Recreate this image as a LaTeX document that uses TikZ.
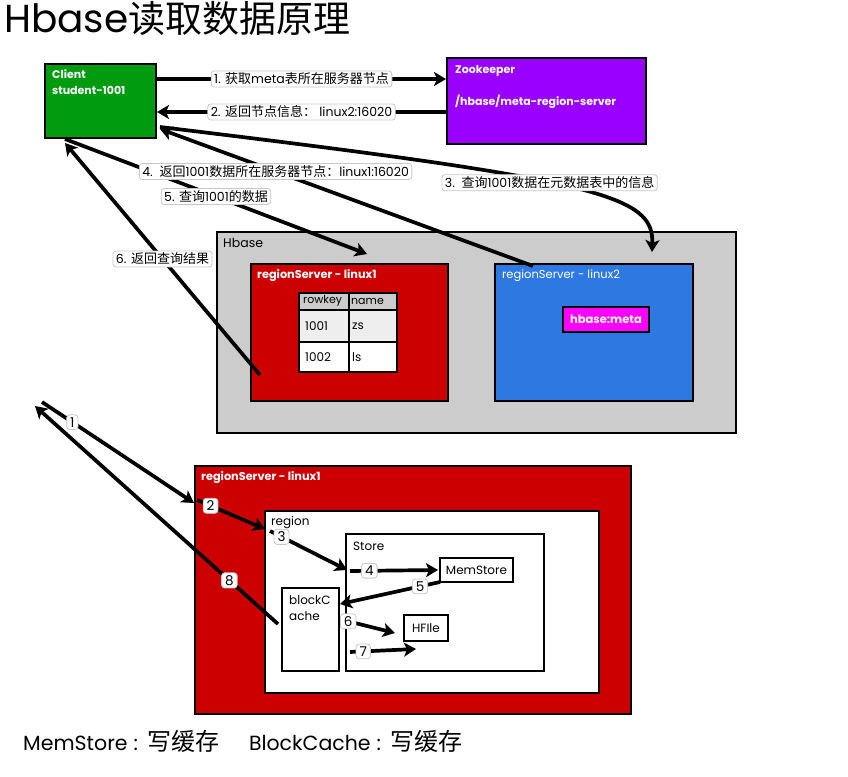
\documentclass[tikz,border=0pt]{standalone}
\usepackage{fontspec}
\setmainfont{Poppins}
\newfontfamily\cjk{Noto Sans CJK SC}
\usetikzlibrary{arrows.meta}
\definecolor{cgreen}{RGB}{0,155,15}
\definecolor{cpurple}{RGB}{153,0,255}
\definecolor{cgray}{RGB}{204,204,204}
\definecolor{cred}{RGB}{204,0,0}
\definecolor{cblue}{RGB}{45,120,225}
\definecolor{cmag}{RGB}{255,0,255}
\definecolor{lgray}{RGB}{238,238,238}
\newcommand{\zh}[1]{{\cjk\fontsize{13}{15}\selectfont #1}}
\begin{document}
\begin{tikzpicture}[x=1pt,y=-1pt,
  box/.style={draw=black, line width=2pt, anchor=north west, inner sep=0pt},
  cell/.style={draw=black, line width=1.5pt, anchor=north west, inner sep=0pt},
  arr/.style={line width=3.7pt, -{Stealth[length=12pt,width=14pt,inset=3pt]}},
  lbl/.style={draw=black!22, line width=0.8pt, fill=white, rounded corners=3pt, inner xsep=3pt, inner ysep=2pt, text=black, font=\fontsize{12.5}{15}\selectfont},
  num/.style={draw=black!22, line width=0.8pt, fill=white, rounded corners=3pt, inner xsep=3.5pt, inner ysep=2.5pt, text=black, font=\fontsize{13.5}{15}\selectfont},
  wt/.style={text=white, font=\bfseries\fontsize{11}{16}\selectfont, anchor=west, inner sep=0pt, align=left},
  dt/.style={text=black, font=\fontsize{12}{14}\selectfont, anchor=west, inner sep=0pt}
]
\useasboundingbox (0,0) rectangle (848,776);
\fill[white] (0,0) rectangle (848,776);

% title
\node[anchor=base west, inner sep=0pt] (title) at (4,33) {\fontsize{39}{44}\selectfont Hbase{\cjk\fontsize{37}{44}\selectfont 读取数据原理}};

% client and zookeeper
\node[box, fill=cgreen, minimum width=111pt, minimum height=74pt] (client) at (44,63) {};
\node[wt] (clientt) at (52,82) {Client\\student-1001};
\node[box, fill=cpurple, minimum width=199pt, minimum height=86pt] (zk) at (446,57) {};
\node[wt] (zkt1) at (455,71) {Zookeeper};
\node[wt] (zkt2) at (455,102) {/hbase/meta-region-server};

% Hbase cluster
\node[box, fill=cgray, minimum width=519pt, minimum height=201pt] (hbase) at (216,231) {};
\node[dt, font=\fontsize{12.5}{14}\selectfont] (hbaset) at (223,243) {Hbase};
\node[box, fill=cred, minimum width=197pt, minimum height=137pt] (rs1) at (250,263) {};
\node[wt, font=\bfseries\fontsize{11.3}{13}\selectfont] (rs1t) at (257,276) {regionServer - linux1};
\node[box, fill=cblue, minimum width=198pt, minimum height=137pt] (rs2) at (494,263) {};
\node[wt, font=\fontsize{11.5}{13}\selectfont] (rs2t) at (502,276) {regionServer - linux2};
\node[box, fill=cmag, minimum width=86pt, minimum height=25pt, font=\bfseries\fontsize{11.5}{13}\selectfont, text=white] (meta) at (562,306) {hbase:meta};

% table
\tikzset{ct/.style={anchor=west, inner sep=0pt, font=\fontsize{12}{14}\selectfont}}
\node[cell, fill=cgray, minimum width=50pt, minimum height=17pt] (c11) at (298,292) {};
\node[cell, fill=cgray, minimum width=48pt, minimum height=17pt] (c12) at (348,292) {};
\node[cell, fill=lgray, minimum width=50pt, minimum height=32pt] (c21) at (298,309) {};
\node[cell, fill=lgray, minimum width=48pt, minimum height=32pt] (c22) at (348,309) {};
\node[cell, fill=white, minimum width=50pt, minimum height=30pt] (c31) at (298,341) {};
\node[cell, fill=white, minimum width=48pt, minimum height=30pt] (c32) at (348,341) {};
\node[ct, font=\fontsize{11}{13}\selectfont] (t11) at ([xshift=5pt]c11.west) {rowkey};
\node[ct, font=\fontsize{11}{13}\selectfont] (t12) at ([xshift=3pt]c12.west) {name};
\node[ct] (t21) at ([xshift=7pt]c21.west) {1001};
\node[ct] (t22) at ([xshift=4pt]c22.west) {zs};
\node[ct] (t31) at ([xshift=7pt]c31.west) {1002};
\node[ct] (t32) at ([xshift=4pt]c32.west) {ls};

% top connectors
\coordinate (a3s) at (160,127);
\coordinate (a3e) at (652,252);
\coordinate (a4s) at (533,266);
\coordinate (a4e) at (160,129);
\coordinate (a5s) at (65,139);
\coordinate (a5e) at (367,254);
\coordinate (a6s) at (260,375);
\coordinate (a6e) at (65,143);

\draw[arr] ([yshift=22pt]client.east) -- node[lbl]{1. \zh{获取}meta\zh{表所在服务器节点}} ([yshift=22pt]zk.west);
\draw[arr] ([yshift=-11pt]zk.west) -- node[lbl]{2. \zh{返回节点信息：} linux2:16020} ([yshift=-11pt]client.east);
\draw[arr] (a3s) .. controls (600,180) and (654,195) .. node[lbl, pos=0.45]{3.\ \ \zh{查询}1001\zh{数据在元数据表中的信息}} (a3e);
\draw[arr] (a5s) -- node[lbl, pos=0.5]{5. \zh{查询}1001\zh{的数据}} (a5e);
\draw[arr] (a4s) -- node[lbl, pos=0.69]{4.\ \ \zh{返回}1001\zh{数据所在服务器节点：}linux1:16020} (a4e);
\draw[arr] (a6s) -- node[lbl, pos=0.5]{6. \zh{返回查询结果}} (a6e);

% bottom region server
\node[box, fill=cred, minimum width=436pt, minimum height=248pt] (rsb) at (194,465) {};
\node[wt, font=\bfseries\fontsize{11.3}{13}\selectfont] (rsbt) at (201,478) {regionServer - linux1};
\node[box, fill=white, minimum width=334pt, minimum height=182pt] (region) at (264,510) {};
\node[dt] (regiont) at (271,523) {region};
\node[box, fill=white, minimum width=198pt, minimum height=137pt] (store) at (345,533) {};
\node[dt] (storet) at (353,546) {Store};
\node[box, fill=white, minimum width=73pt, minimum height=24pt, font=\fontsize{12}{13}\selectfont] (mem) at (439,557) {MemStore};
\node[box, fill=white, minimum width=57pt, minimum height=83pt] (bc) at (281,587) {};
\node[dt, align=left, font=\fontsize{12}{16}\selectfont] (bct) at (289,608) {blockC\\ache};
\node[box, fill=white, minimum width=44pt, minimum height=26pt, font=\fontsize{12}{13}\selectfont] (hf) at (403,614) {HFIle};

\coordinate (b1s) at (42,402);
\coordinate (b1e) at (194,503);
\coordinate (b2s) at (197,500);
\coordinate (b2e) at (265,529);
\coordinate (b3s) at (270,531);
\coordinate (b3e) at (347,570);
\coordinate (b4s) at (350,571);
\coordinate (b4e) at (438,570);
\coordinate (b5s) at (440,582);
\coordinate (b5e) at (340,604);
\coordinate (b6s) at (343,620);
\coordinate (b6e) at (395,633);
\coordinate (b7s) at (350,652);
\coordinate (b7e) at (416,649);
\coordinate (b8s) at (278,624);
\coordinate (b8e) at (35,406);

\draw[arr] (b1s) -- node[num, pos=0.2]{1} (b1e);
\draw[arr] (b2s) -- node[num, pos=0.2]{2} (b2e);
\draw[arr] (b3s) -- node[num, pos=0.15]{3} (b3e);
\draw[arr] (b4s) -- node[num, pos=0.22]{4} (b4e);
\draw[arr] (b5s) -- node[num, pos=0.2]{5} (b5e);
\draw[arr] (b6s) -- node[num, pos=0.1]{6} (b6e);
\draw[arr] (b7s) -- node[num, pos=0.2]{7} (b7e);
\draw[arr] (b8s) -- node[num, pos=0.2]{8} (b8e);

% legend
\node[anchor=base west, inner sep=0pt, font=\fontsize{20.5}{24}\selectfont] (legend) at (23,750) {MemStore\hspace{6pt}:\hspace{9pt}{\cjk\fontsize{24}{26}\selectfont 写缓存}\hspace{30pt}BlockCache\hspace{6pt}:\hspace{9pt}{\cjk\fontsize{24}{26}\selectfont 写缓存}};
\end{tikzpicture}
\end{document}
